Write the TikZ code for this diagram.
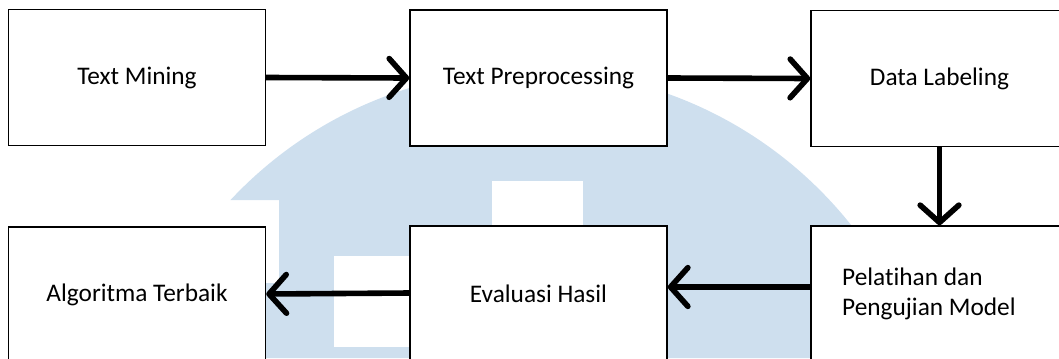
\documentclass[tikz,border=0pt]{standalone}
\usepackage{fontspec}
\setmainfont{Carlito}[Ligatures={NoCommon,NoRare,NoContextual}]
\usetikzlibrary{arrows.meta}
\definecolor{wm}{RGB}{206,223,238}
\tikzset{
  box/.style={draw=black, line width=1.1pt, fill=white, minimum width=192.75pt, minimum height=102pt, inner sep=0pt, font=\fontsize{19}{23}\selectfont},
  arr/.style={line width=4.2pt, -{Straight Barb[length=13pt,width=29pt,round]}},
}
\begin{document}
\begin{tikzpicture}[x=0.75pt,y=-0.75pt]
\useasboundingbox (0,0) rectangle (1059,358);
% watermark
\begin{scope}
\clip (0,0) -- (1059,0) -- (1059,358) -- (0,358) -- (0,283) -- (279,283) -- (279,200) -- (0,200) -- cycle;
\fill[wm] (530,480) circle [radius=307.5pt];
\end{scope}
\fill[white] (492,181) rectangle (583,226);
\fill[white] (334,256) rectangle (410,347);
% boxes
\node[box] (b1) at (137,77.5) {Text Mining};
\node[box] (b2) at (538.5,78) {Text Preprocessing};
\node[box] (b3) at (939.5,78.5) {Data Labeling};
\node[box] (b4) at (137,295) {Algoritma Terbaik};
\node[box] (b5) at (538.5,294) {Evaluasi Hasil};
\node[box, align=flush left, text width=146pt, font=\fontsize{19}{22.5}\selectfont] (b6) at (939.5,294) {Pelatihan dan\\Pengujian Model};
% arrows
\draw[arr] (b1.east) -- (b2.west);
\draw[arr] (b2.east) -- (b3.west);
\draw[arr] (b3.south) -- (b6.north);
\draw[arr] ([yshift=5.25pt]b6.west) -- ([yshift=5.25pt]b5.east);
\draw[arr] ([yshift=0.75pt]b5.west) -- ([yshift=0.75pt]b4.east);
\end{tikzpicture}
\end{document}
